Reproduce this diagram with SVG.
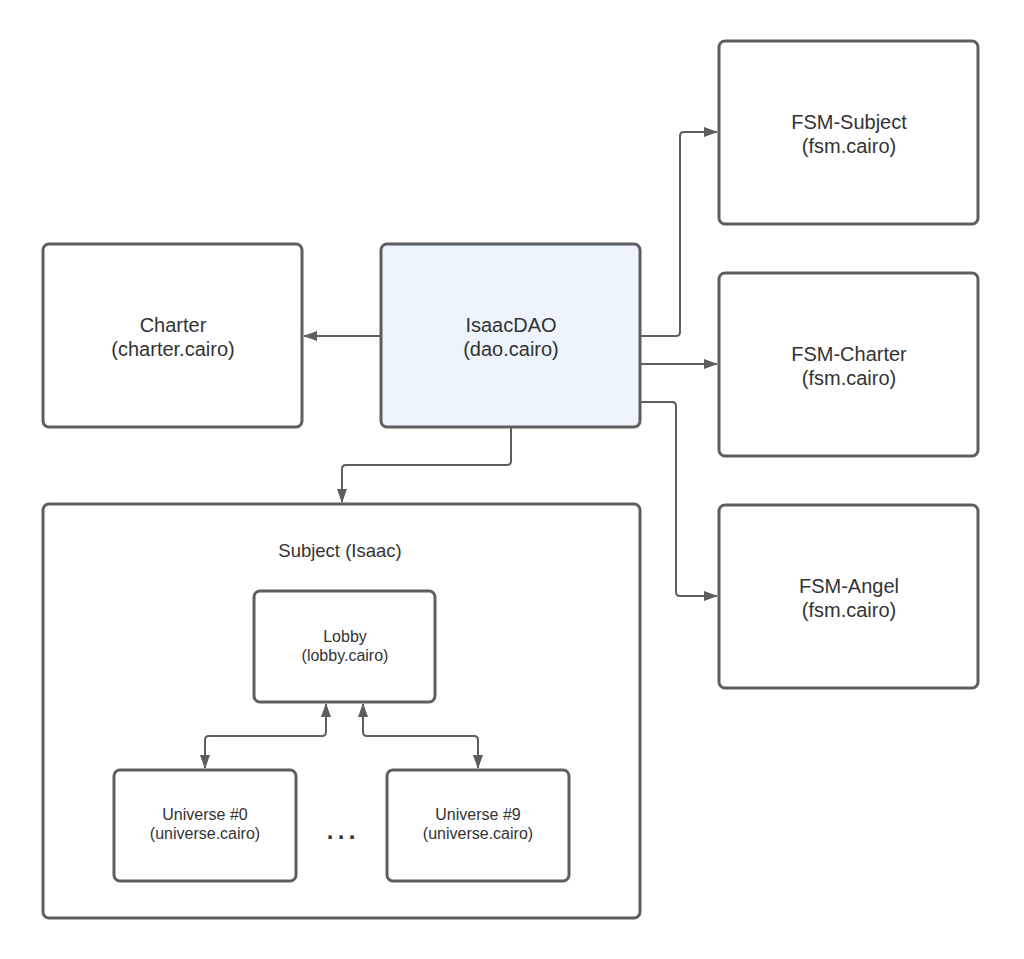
<svg xmlns="http://www.w3.org/2000/svg" width="1024" height="959" viewBox="0 0 1024 959">
<style>
.box{fill:#ffffff;stroke:#5e5e5e;stroke-width:3}
.dao{fill:#edf4fe}
.t{font-family:"Liberation Sans",Arial,sans-serif;font-size:20px;fill:#333333;text-anchor:middle}
.m{font-size:18.5px}
.s{font-size:16px}
.c{fill:none;stroke:#5e5e5e;stroke-width:2}
</style>
<defs>
<marker id="ah" viewBox="0 0 14 12" refX="13" refY="6" markerWidth="14" markerHeight="12" markerUnits="userSpaceOnUse" orient="auto-start-reverse">
<path d="M0,1 L14,6 L0,11 Z" fill="#5e5e5e"/>
</marker>
</defs>
<rect width="1024" height="959" fill="#ffffff"/>
<g id="charter"><rect class="box" x="43" y="244" width="259" height="183" rx="6"/>
<text class="t" x="173" y="332">Charter</text><text class="t" x="173" y="356">(charter.cairo)</text></g>
<g id="isaacdao"><rect class="box dao" x="381" y="244" width="259" height="183" rx="6"/>
<text class="t" x="511" y="332">IsaacDAO</text><text class="t" x="511" y="356">(dao.cairo)</text></g>
<g id="fsm-subject"><rect class="box" x="719" y="41" width="259" height="183" rx="6"/>
<text class="t" x="849" y="129">FSM-Subject</text><text class="t" x="849" y="153">(fsm.cairo)</text></g>
<g id="fsm-charter"><rect class="box" x="719" y="273" width="259" height="183" rx="6"/>
<text class="t" x="849" y="361">FSM-Charter</text><text class="t" x="849" y="385">(fsm.cairo)</text></g>
<g id="fsm-angel"><rect class="box" x="719" y="505" width="259" height="183" rx="6"/>
<text class="t" x="849" y="593">FSM-Angel</text><text class="t" x="849" y="617">(fsm.cairo)</text></g>
<g id="subject"><rect class="box" x="43" y="504" width="597" height="414" rx="6"/>
<text class="t m" x="340" y="557">Subject (Isaac)</text></g>
<g id="lobby"><rect class="box" x="254" y="591" width="181" height="111" rx="6"/>
<text class="t s" x="345" y="642">Lobby</text><text class="t s" x="345" y="661">(lobby.cairo)</text></g>
<g id="universe0"><rect class="box" x="114" y="770" width="182" height="111" rx="6"/>
<text class="t s" x="205" y="820">Universe #0</text><text class="t s" x="205" y="839">(universe.cairo)</text></g>
<g id="universe9"><rect class="box" x="387" y="770" width="182" height="111" rx="6"/>
<text class="t s" x="478" y="820">Universe #9</text><text class="t s" x="478" y="839">(universe.cairo)</text></g>
<g id="ellipsis"><text class="t" x="330 341 352" y="839" style="font-weight:bold;font-size:24px">...</text></g>
<g id="connectors">
<path class="c" d="M381,336 H304" marker-end="url(#ah)"/>
<path class="c" d="M640,336 H676 Q680,336 680,332 V136 Q680,132 684,132 H717" marker-end="url(#ah)"/>
<path class="c" d="M640,364 H717" marker-end="url(#ah)"/>
<path class="c" d="M640,402 H672 Q676,402 676,406 V592 Q676,596 680,596 H717" marker-end="url(#ah)"/>
<path class="c" d="M511,427 V461 Q511,465 507,465 H346 Q342,465 342,469 V502" marker-end="url(#ah)"/>
<path class="c" d="M326,704 V732 Q326,736 322,736 H209 Q205,736 205,740 V768" marker-start="url(#ah)" marker-end="url(#ah)"/>
<path class="c" d="M363,704 V732 Q363,736 367,736 H474 Q478,736 478,740 V768" marker-start="url(#ah)" marker-end="url(#ah)"/>
</g>
</svg>
